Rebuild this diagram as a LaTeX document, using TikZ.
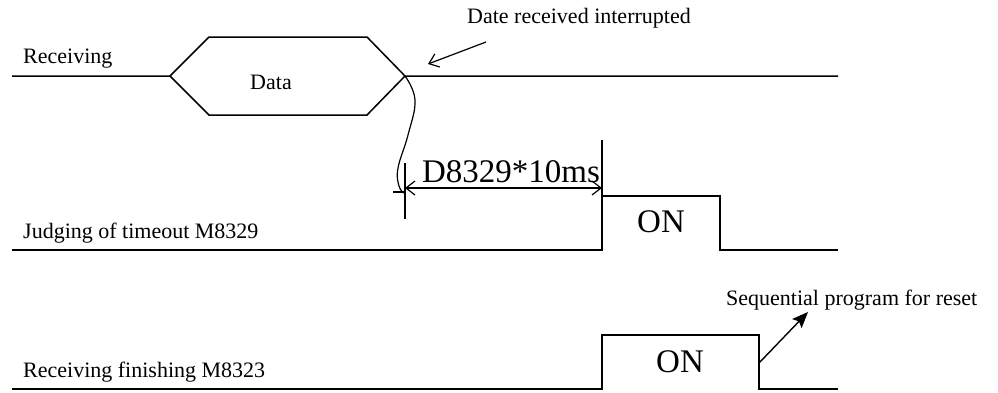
\documentclass[tikz,border=0pt]{standalone}
\usepackage{fontspec}
\setmainfont{Liberation Serif}
\usetikzlibrary{positioning,arrows.meta}

\begin{document}
\begin{tikzpicture}[
  x=1pt, y=-1pt,
  sig/.style={line width=1.5pt, line join=miter},
  thin line/.style={line width=1.2pt},
  lbl/.style={font=\fontsize{22}{24}\selectfont, inner sep=0pt},
  big/.style={font=\fontsize{33}{36}\selectfont, inner sep=0pt},
  barb/.style={line width=1.2pt, -{Straight Barb[length=9pt,width=14pt]}},
  dim/.style={line width=1.2pt, {Straight Barb[length=9pt,width=14pt]}-{Straight Barb[length=9pt,width=14pt]}},
  pointer/.style={line width=1.4pt, -{Stealth[length=16pt,width=13pt,inset=3pt]}}
]
  \useasboundingbox (0,0) rectangle (998,392);

  % receiving line with the data window
  \draw[sig] (12,76) -- (170,76) -- (209,37) -- (367,37) -- (405,76) -- (838,76);
  \draw[sig] (170,76) -- (209,115) -- (367,115) -- (405,76);
  \node[lbl, anchor=base west] (recv) at (23,63) {Receiving};
  \node[lbl, anchor=base] (data) at (271,89) {Data};

  % timeout flag and finishing flag
  \draw[sig] (12,250) -- (602,250) -- (602,196) -- (720,196) -- (720,250) -- (838,250);
  \draw[sig] (12,389) -- (602,389) -- (602,335) -- (759,335) -- (759,389) -- (838,389);
  \node[lbl, anchor=base west] (judge) at (23,238) {Judging of timeout M8329};
  \node[lbl, anchor=base west] (finish) at (23,377) {Receiving finishing M8323};
  \node[big, anchor=base] (on1) at (661,232) {ON};
  \node[big, anchor=base] (on2) at (680,372) {ON};

  % interruption note
  \node[lbl, anchor=base west] (intr) at (467,23) {Date received interrupted};
  \coordinate (intrTail) at (486,42);
  \coordinate (intrTip) at (428,64);
  \draw[barb] (intrTail) -- (intrTip);
  \draw[thin line] plot[smooth, tension=0.7] coordinates {(405,76) (415,100) (408,135) (398,168) (399,186) (404,193)};
  \draw[thin line] (393,192) -- (404,192);

  % timeout span
  \coordinate (dimL) at (405,188);
  \coordinate (dimR) at (602,188);
  \draw[thin line] (405,163) -- (405,219);
  \draw[thin line] (602,140) -- (602,196);
  \draw[dim] (dimL) -- (dimR);
  \node[big, anchor=base] (dimtxt) at (511,182) {D8329*10ms};

  % reset note
  \node[lbl, anchor=base west] (seq) at (726,305) {Sequential program for reset};
  \coordinate (seqTail) at (759,363);
  \coordinate (seqTip) at (808,312);
  \draw[pointer] (seqTail) -- (seqTip);
\end{tikzpicture}
\end{document}
